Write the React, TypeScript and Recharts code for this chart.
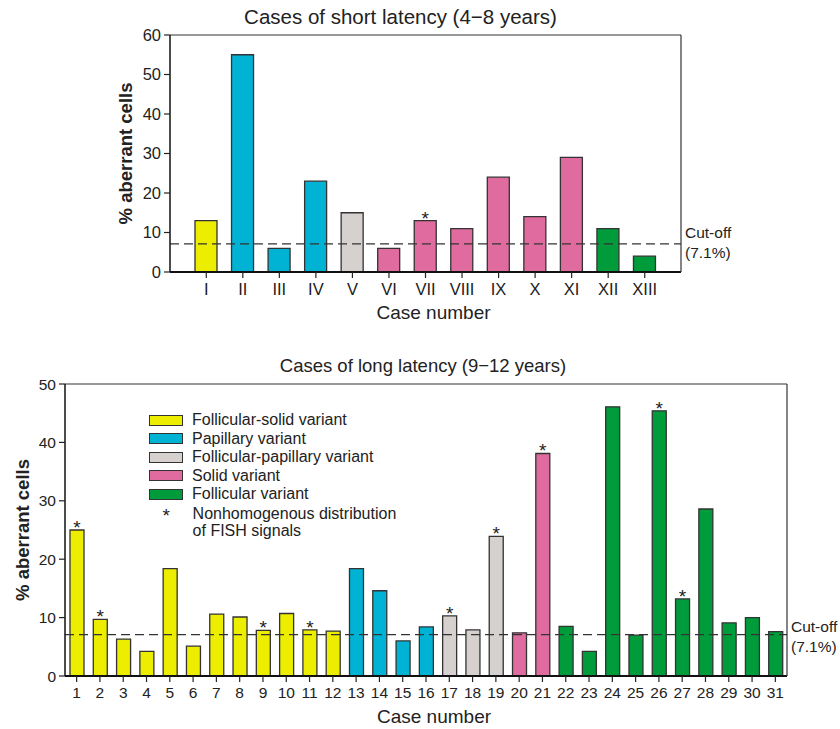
import React from 'react';
import { BarChart, Bar, XAxis, YAxis, Cell, ReferenceLine, LabelList } from 'recharts';

const FONT = '"Liberation Sans", Arial, Helvetica, sans-serif';

// variant colours
const variantColors: Record<string, string> = {
  fs: '#EDED00',
  pap: '#00B3D5',
  fp: '#D6D1CE',
  solid: '#E06C9F',
  foll: '#009C3B',
};

const legendItems = [
  { key: 'fs', label: 'Follicular-solid variant' },
  { key: 'pap', label: 'Papillary variant' },
  { key: 'fp', label: 'Follicular-papillary variant' },
  { key: 'solid', label: 'Solid variant' },
  { key: 'foll', label: 'Follicular variant' },
];

// short latency (4-8 years)
const shortCases = ['I', 'II', 'III', 'IV', 'V', 'VI', 'VII', 'VIII', 'IX', 'X', 'XI', 'XII', 'XIII'];
const shortValues = [13, 55, 6, 23, 15, 6, 13, 11, 24, 14, 29, 11, 4];
const shortGroups = ['fs', 'pap', 'pap', 'pap', 'fp', 'solid', 'solid', 'solid', 'solid', 'solid', 'solid', 'foll', 'foll'];
const shortStars = ['VII'];
const shortTicks = [0, 10, 20, 30, 40, 50, 60];

// long latency (9-12 years)
const longCases = Array.from({ length: 31 }, (_, i) => String(i + 1));
const longValues = [
  25, 9.7, 6.3, 4.2, 18.4, 5.1, 10.6, 10.1, 7.8, 10.7, 7.9, 7.7,
  18.4, 14.6, 6.0, 8.4,
  10.3, 7.9, 23.9,
  7.4, 38.1,
  8.5, 4.2, 46.1, 7.0, 45.4, 13.2, 28.6, 9.1, 10.0, 7.6,
];
const longGroups = [
  ...Array(12).fill('fs'),
  ...Array(4).fill('pap'),
  ...Array(3).fill('fp'),
  ...Array(2).fill('solid'),
  ...Array(10).fill('foll'),
];
const longStars = ['1', '2', '9', '11', '17', '19', '21', '26', '27'];
const longTicks = [0, 10, 20, 30, 40, 50];

const CUTOFF = 7.1;

const shortData = shortCases.map((c, i) => ({
  name: c,
  value: shortValues[i],
  group: shortGroups[i],
  star: shortStars.includes(c) ? '*' : '',
}));

const longData = longCases.map((c, i) => ({
  name: c,
  value: longValues[i],
  group: longGroups[i],
  star: longStars.includes(c) ? '*' : '',
}));

interface PanelProps {
  data: typeof shortData;
  height: number;
  margin: { top: number; right: number; bottom: number; left: number };
  yMax: number;
  ticks: number[];
  barSize: number;
  xPadding: number;
  yLabelDx: number;
  cutDy: number;
  tickSize: number;
}

const Panel = ({ data, height, margin, yMax, ticks, barSize, xPadding, yLabelDx, cutDy, tickSize }: PanelProps) => (
  <BarChart width={840} height={height} data={data} margin={margin} style={{ fontFamily: FONT }}>
    <XAxis
      dataKey="name"
      interval={0}
      padding={{ left: xPadding, right: xPadding }}
      tick={{ fill: '#222', fontSize: tickSize }}
      tickLine={{ stroke: '#222', strokeWidth: 1.2 }}
      axisLine={{ stroke: '#111', strokeWidth: 2.2 }}
      tickSize={6}
      tickMargin={5}
      height={50}
      label={(props: any) => {
        const vb = props.viewBox;
        return (
          <text x={vb.x + vb.width / 2 + 8} y={vb.y + 47} textAnchor="middle" fontSize={19} fill="#222">
            Case number
          </text>
        );
      }}
    />
    <YAxis
      domain={[0, yMax]}
      ticks={ticks}
      tick={{ fill: '#222', fontSize: tickSize }}
      tickLine={{ stroke: '#222', strokeWidth: 1.2 }}
      axisLine={{ stroke: '#111', strokeWidth: 1.5 }}
      tickSize={6}
      tickMargin={3}
      width={60}
      allowDataOverflow
      label={(props: any) => {
        const vb = props.viewBox;
        const cx = vb.x + yLabelDx;
        const cy = vb.y + vb.height / 2;
        return (
          <text
            x={cx}
            y={cy}
            transform={`rotate(-90, ${cx}, ${cy})`}
            textAnchor="middle"
            dominantBaseline="central"
            fontSize={18.5}
            fontWeight="bold"
            fill="#222"
          >
            % aberrant cells
          </text>
        );
      }}
    />
    <YAxis
      yAxisId="frame"
      orientation="right"
      domain={[0, yMax]}
      width={1}
      tick={false}
      tickLine={false}
      axisLine={{ stroke: '#333', strokeWidth: 1.2 }}
    />
    <ReferenceLine y={yMax} stroke="#333" strokeWidth={1.2} />
    <Bar dataKey="value" barSize={barSize} stroke="#333" strokeWidth={1.3} isAnimationActive={false}>
      {data.map((d) => (
        <Cell key={d.name} fill={variantColors[d.group]} />
      ))}
      <LabelList dataKey="star" position="top" offset={-4} fontSize={19} fill="#222" />
    </Bar>
    <ReferenceLine
      y={CUTOFF}
      stroke="#333"
      strokeWidth={1.3}
      strokeDasharray="9 5"
      label={(props: any) => {
        const vb = props.viewBox;
        const x = vb.x + vb.width + 4;
        return (
          <text x={x} y={vb.y + cutDy} fontSize={15.5} fill="#222">
            <tspan x={x}>Cut-off</tspan>
            <tspan x={x} dy={20}>(7.1%)</tspan>
          </text>
        );
      }}
    />
  </BarChart>
);

const App = () => (
  <div style={{ position: 'absolute', left: 0, top: 0, width: 840, height: 729, background: '#fff', fontFamily: FONT, color: '#222' }}>
    <div style={{ position: 'absolute', left: 0, top: 0, width: 801, textAlign: 'center', fontSize: 20.5, lineHeight: '33px' }}>
      Cases of short latency (4−8 years)
    </div>
    <div style={{ position: 'absolute', left: 0, top: 0 }}>
      <Panel
        data={shortData}
        height={330}
        margin={{ top: 35, right: 158, bottom: 8, left: 110 }}
        yMax={60}
        ticks={shortTicks}
        barSize={22}
        xPadding={18}
        yLabelDx={15}
        cutDy={-5.5}
        tickSize={16.5}
      />
    </div>
    <div style={{ position: 'absolute', left: 0, top: 350, width: 846, textAlign: 'center', fontSize: 18.5, lineHeight: '32px' }}>
      Cases of long latency (9−12 years)
    </div>
    <div style={{ position: 'absolute', left: 0, top: 350 }}>
      <Panel
        data={longData}
        height={379}
        margin={{ top: 34, right: 52, bottom: 3, left: 5 }}
        yMax={50}
        ticks={longTicks}
        barSize={14}
        xPadding={0}
        yLabelDx={17}
        cutDy={-2.5}
        tickSize={15.5}
      />
    </div>
    {/* legend */}
    <div style={{ position: 'absolute', left: 149, top: 411, fontSize: 16, lineHeight: '18.5px' }}>
      {legendItems.map((it) => (
        <div key={it.key} style={{ display: 'flex', alignItems: 'center', height: 18.5 }}>
          <span
            style={{
              display: 'inline-block',
              width: 32,
              height: 9,
              background: variantColors[it.key],
              border: '1.3px solid #333',
              marginRight: 9,
            }}
          />
          <span>{it.label}</span>
        </div>
      ))}
      <div style={{ display: 'flex', alignItems: 'flex-start', marginTop: 1 }}>
        <span style={{ display: 'inline-block', width: 34.6, marginRight: 9, textAlign: 'center', fontSize: 19, lineHeight: '22px' }}>*</span>
        <span style={{ lineHeight: '17px' }}>
          Nonhomogenous distribution
          <br />
          of FISH signals
        </span>
      </div>
    </div>
  </div>
);

export default App;
